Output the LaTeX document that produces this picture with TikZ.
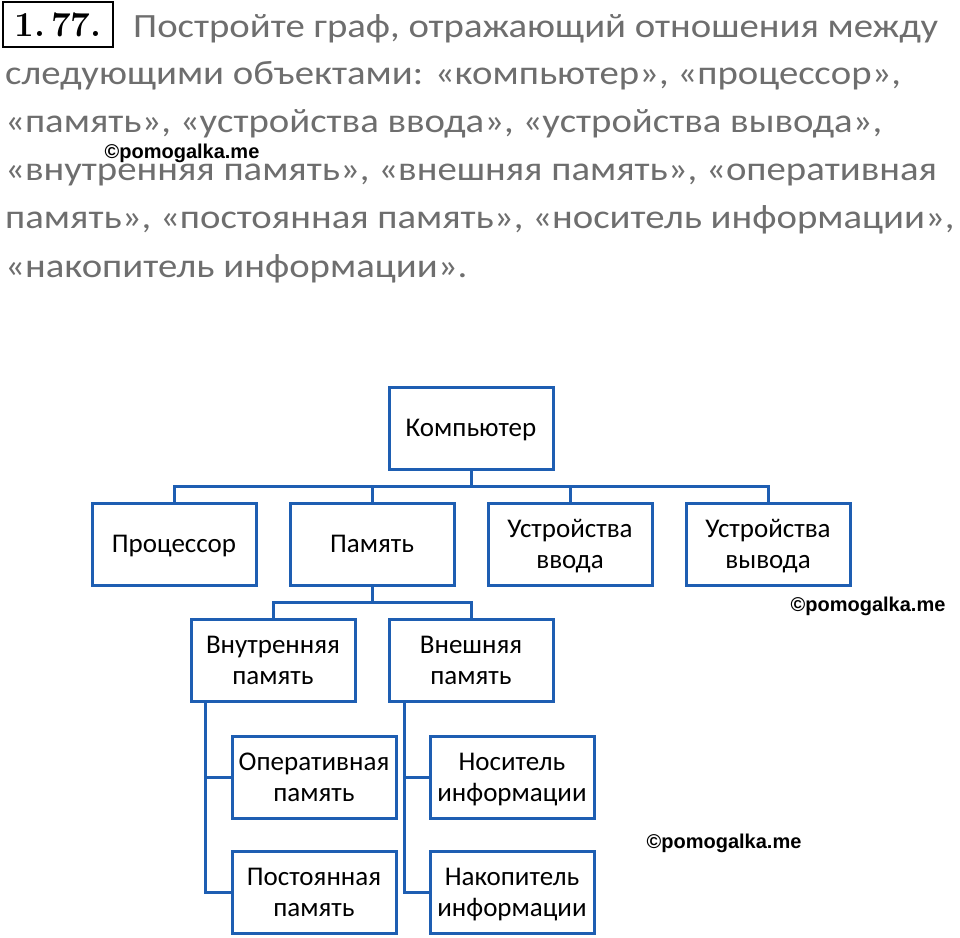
\documentclass[tikz,border=0pt]{standalone}
\usepackage{fontspec}
\newfontfamily\carlitofont{Carlito}
\newfontfamily\hdrfont[FakeStretch=1.14]{Carlito}
\newfontfamily\wmfont{Liberation Sans}
\definecolor{boxblue}{RGB}{30,94,178}
\definecolor{txtgray}{RGB}{110,110,110}
\tikzset{
  box/.style={draw=boxblue, line width=3pt, minimum width=164pt, minimum height=82pt,
    inner sep=0pt, align=center, text depth=0pt, font=\carlitofont\fontsize{27}{31}\selectfont, text=black},
  conn/.style={draw=boxblue, line width=3pt},
  hdr/.style={anchor=base west, inner sep=0pt, text=txtgray, font=\hdrfont\fontsize{34}{40}\selectfont},
  wm/.style={inner sep=0pt, font=\wmfont\bfseries\fontsize{20}{24}\selectfont, text=black}
}
\begin{document}
\begin{tikzpicture}[x=1pt,y=-1pt]
\useasboundingbox (0,0) rectangle (960,937);
% header
\node[draw=black, line width=2.5pt, minimum width=110pt, minimum height=45pt, inner sep=0pt,
  font=\fontsize{35}{40}\selectfont\bfseries] (num) at (58,24.5) {1.\,77.};
\node[hdr] (l1) at (133,37) {Постройте граф, отражающий отношения между};
\node[hdr] (l2) at (5,84) {следующими объектами: «компьютер», «процессор»,};
\node[hdr] (l3) at (5,132) {«память», «устройства ввода», «устройства вывода»,};
\node[hdr] (l4) at (5,180) {«внутренняя память», «внешняя память», «оперативная};
\node[hdr] (l5) at (5,228) {память», «постоянная память», «носитель информации»,};
\node[hdr] (l6) at (5,277) {«накопитель информации».};
% watermarks
\node[wm] (w1) at (182,153) {©pomogalka.me};
\node[wm] (w2) at (868,606) {©pomogalka.me};
\node[wm] (w3) at (724,843) {©pomogalka.me};
% boxes
\node[box] (comp) at (471,428) {Компьютер};
\node[box] (proc) at (174,544) {Процессор};
\node[box] (mem) at (372,544) {Память};
\node[box] (inp) at (570,544) {Устройства\\ввода};
\node[box] (out) at (768,544) {Устройства\\вывода};
\node[box] (inn) at (273,660.5) {Внутренняя\\память};
\node[box] (ext) at (471,660.5) {Внешняя\\память};
\node[box] (oper) at (314,777) {Оперативная\\память};
\node[box] (perm) at (314,892.5) {Постоянная\\память};
\node[box] (car) at (512,777) {Носитель\\информации};
\node[box] (acc) at (512,892.5) {Накопитель\\информации};
% connectors
\draw[conn] (comp.south) -- (comp.south |- 0,486);
\draw[conn] (proc.north) -- (proc.north |- 0,486) -| (out.north);
\draw[conn] (mem.north) -- (mem.north |- 0,486);
\draw[conn] (inp.north) -- (inp.north |- 0,486);
\draw[conn] (mem.south) -- (mem.south |- 0,602);
\draw[conn] (inn.north) -- (inn.north |- 0,602) -| (ext.north);
\draw[conn] ([xshift=16pt]inn.south west) |- (oper.west);
\draw[conn] ([xshift=16pt]inn.south west) |- (perm.west);
\draw[conn] ([xshift=17pt]ext.south west) |- (car.west);
\draw[conn] ([xshift=17pt]ext.south west) |- (acc.west);
\end{tikzpicture}
\end{document}
